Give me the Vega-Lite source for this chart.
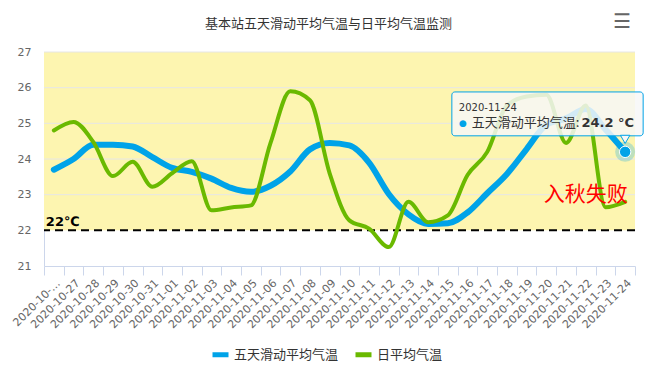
{
  "$schema": "https://vega.github.io/schema/vega-lite/v6.json",
  "width": 591,
  "height": 214,
  "autosize": {"type": "none"},
  "padding": {"left": 44, "top": 52, "right": 22, "bottom": 106},
  "background": "white",
  "config": {
    "view": {"stroke": null},
    "font": "Noto Sans CJK SC",
    "axisY": {"labelOverlap": false, "labelSeparation": 0, "tickCount": 7, "labelColor": "#666666", "labelFontSize": 11, "labelFont": "DejaVu Sans", "grid": false, "ticks": false, "domainColor": "#ccd6eb", "labelPadding": 13},
    "axisX": {"labelOverlap": false, "labelColor": "#666666", "labelFontSize": 11, "labelFont": "DejaVu Sans"}
  },
  "title": {
    "text": "基本站五天滑动平均气温与日平均气温监测",
    "font": "Noto Sans CJK SC",
    "fontSize": 13,
    "fontWeight": "normal",
    "color": "#333333",
    "anchor": "middle",
    "frame": "group",
    "baseline": "alphabetic",
    "dx": -11,
    "offset": -29
  },
  "datasets": {
    "temps": [
      {"date": "2020-10-26", "series": "五天滑动平均气温", "value": 23.7},
      {"date": "2020-10-27", "series": "五天滑动平均气温", "value": 24.0},
      {"date": "2020-10-28", "series": "五天滑动平均气温", "value": 24.4},
      {"date": "2020-10-29", "series": "五天滑动平均气温", "value": 24.4},
      {"date": "2020-10-30", "series": "五天滑动平均气温", "value": 24.35},
      {"date": "2020-10-31", "series": "五天滑动平均气温", "value": 24.05},
      {"date": "2020-11-01", "series": "五天滑动平均气温", "value": 23.75},
      {"date": "2020-11-02", "series": "五天滑动平均气温", "value": 23.64},
      {"date": "2020-11-03", "series": "五天滑动平均气温", "value": 23.45},
      {"date": "2020-11-04", "series": "五天滑动平均气温", "value": 23.19},
      {"date": "2020-11-05", "series": "五天滑动平均气温", "value": 23.08},
      {"date": "2020-11-06", "series": "五天滑动平均气温", "value": 23.25},
      {"date": "2020-11-07", "series": "五天滑动平均气温", "value": 23.65},
      {"date": "2020-11-08", "series": "五天滑动平均气温", "value": 24.27},
      {"date": "2020-11-09", "series": "五天滑动平均气温", "value": 24.45},
      {"date": "2020-11-10", "series": "五天滑动平均气温", "value": 24.38},
      {"date": "2020-11-11", "series": "五天滑动平均气温", "value": 23.9},
      {"date": "2020-11-12", "series": "五天滑动平均气温", "value": 23.02},
      {"date": "2020-11-13", "series": "五天滑动平均气温", "value": 22.45},
      {"date": "2020-11-14", "series": "五天滑动平均气温", "value": 22.18},
      {"date": "2020-11-15", "series": "五天滑动平均气温", "value": 22.2},
      {"date": "2020-11-16", "series": "五天滑动平均气温", "value": 22.5},
      {"date": "2020-11-17", "series": "五天滑动平均气温", "value": 23.04},
      {"date": "2020-11-18", "series": "五天滑动平均气温", "value": 23.58},
      {"date": "2020-11-19", "series": "五天滑动平均气温", "value": 24.28},
      {"date": "2020-11-20", "series": "五天滑动平均气温", "value": 24.96},
      {"date": "2020-11-21", "series": "五天滑动平均气温", "value": 25.14},
      {"date": "2020-11-22", "series": "五天滑动平均气温", "value": 25.4},
      {"date": "2020-11-23", "series": "五天滑动平均气温", "value": 24.83},
      {"date": "2020-11-24", "series": "五天滑动平均气温", "value": 24.2},
      {"date": "2020-10-26", "series": "日平均气温", "value": 24.8},
      {"date": "2020-10-27", "series": "日平均气温", "value": 25.04},
      {"date": "2020-10-28", "series": "日平均气温", "value": 24.48},
      {"date": "2020-10-29", "series": "日平均气温", "value": 23.52},
      {"date": "2020-10-30", "series": "日平均气温", "value": 23.92},
      {"date": "2020-10-31", "series": "日平均气温", "value": 23.22},
      {"date": "2020-11-01", "series": "日平均气温", "value": 23.6},
      {"date": "2020-11-02", "series": "日平均气温", "value": 23.94},
      {"date": "2020-11-03", "series": "日平均气温", "value": 22.56},
      {"date": "2020-11-04", "series": "日平均气温", "value": 22.64},
      {"date": "2020-11-05", "series": "日平均气温", "value": 22.7},
      {"date": "2020-11-06", "series": "日平均气温", "value": 24.45},
      {"date": "2020-11-07", "series": "日平均气温", "value": 25.9},
      {"date": "2020-11-08", "series": "日平均气温", "value": 25.65},
      {"date": "2020-11-09", "series": "日平均气温", "value": 23.6},
      {"date": "2020-11-10", "series": "日平均气温", "value": 22.28},
      {"date": "2020-11-11", "series": "日平均气温", "value": 22.05},
      {"date": "2020-11-12", "series": "日平均气温", "value": 21.53},
      {"date": "2020-11-13", "series": "日平均气温", "value": 22.8},
      {"date": "2020-11-14", "series": "日平均气温", "value": 22.23},
      {"date": "2020-11-15", "series": "日平均气温", "value": 22.42},
      {"date": "2020-11-16", "series": "日平均气温", "value": 23.55},
      {"date": "2020-11-17", "series": "日平均气温", "value": 24.2},
      {"date": "2020-11-18", "series": "日平均气温", "value": 25.5},
      {"date": "2020-11-19", "series": "日平均气温", "value": 25.75},
      {"date": "2020-11-20", "series": "日平均气温", "value": 25.8},
      {"date": "2020-11-21", "series": "日平均气温", "value": 24.45},
      {"date": "2020-11-22", "series": "日平均气温", "value": 25.5},
      {"date": "2020-11-23", "series": "日平均气温", "value": 22.65},
      {"date": "2020-11-24", "series": "日平均气温", "value": 22.8}
    ],
    "grid": [{"v": 23}, {"v": 24}, {"v": 25}, {"v": 26}, {"v": 27}]
  },
  "data": {"name": "temps"},
  "layer": [
    {
      "data": {"values": [{}]},
      "mark": {"type": "rect", "color": "#fdf5b0"},
      "encoding": {"y": {"datum": 22}, "y2": {"datum": 27}}
    },
    {
      "data": {"name": "grid"},
      "mark": {"type": "rule", "color": "#e6e6e6", "strokeWidth": 1},
      "encoding": {"y": {"field": "v", "type": "quantitative"}}
    },
    {
      "data": {"values": [{}]},
      "mark": {"type": "rule", "color": "#000000", "strokeWidth": 2, "strokeDash": [8, 5]},
      "encoding": {"y": {"datum": 22}}
    },
    {
      "transform": [{"filter": "datum.series == '五天滑动平均气温'"}],
      "mark": {"type": "line", "interpolate": "monotone", "strokeWidth": 6, "strokeCap": "round"},
      "encoding": {
        "x": {
          "field": "date", "type": "ordinal",
          "scale": {"type": "band", "paddingInner": 0, "paddingOuter": 0},
          "axis": {
            "title": null, "labelAngle": -45, "tickBand": "extent", "tickSize": 9,
            "tickColor": "#ccd6eb", "domainColor": "#ccd6eb", "labelColor": "#666666",
            "labelFontSize": 11, "labelFont": "DejaVu Sans", "labelPadding": 2,
            "labelOverlap": false, "labelBound": false,
            "labelExpr": "datum.value == '2020-10-26' ? '2020-10-…' : datum.label"
          }
        },
        "y": {
          "field": "value", "type": "quantitative",
          "scale": {"domain": [21, 27], "nice": false, "zero": false},
          "axis": {
            "title": null, "tickCount": 7, "grid": false, "ticks": false,
            "labelOverlap": false, "labelSeparation": 0, "format": "d",
            "domainColor": "#ccd6eb", "labelColor": "#666666", "labelFontSize": 11,
            "labelFont": "DejaVu Sans", "labelPadding": 13
          }
        },
        "color": {
          "field": "series", "type": "nominal",
          "scale": {"domain": ["五天滑动平均气温", "日平均气温"], "range": ["#00a3e8", "#6ab900"]},
          "legend": {
            "orient": "none", "legendX": 166, "legendY": 292, "direction": "horizontal",
            "title": null, "symbolType": "stroke", "symbolStrokeWidth": 5, "symbolSize": 256,
            "labelFontSize": 13, "labelFont": "Noto Sans CJK SC", "labelColor": "#333333",
            "columnPadding": 6, "labelOffset": 3
          }
        }
      }
    },
    {
      "transform": [{"filter": "datum.series == '日平均气温'"}],
      "mark": {"type": "line", "interpolate": "monotone", "strokeWidth": 4, "strokeCap": "round"},
      "encoding": {
        "x": {"field": "date", "type": "ordinal"},
        "y": {"field": "value", "type": "quantitative"},
        "color": {"field": "series", "type": "nominal"}
      }
    },
    {
      "data": {"values": [{}]},
      "mark": {"type": "text", "text": "22℃", "fontWeight": "bold", "fontSize": 13, "align": "left", "baseline": "alphabetic", "dx": -8, "dy": -4, "color": "#000000", "font": "DejaVu Sans"},
      "encoding": {"x": {"datum": "2020-10-26", "type": "ordinal"}, "y": {"datum": 22}}
    },
    {
      "data": {"values": [{}]},
      "mark": {"type": "text", "text": "入秋失败", "fontSize": 21, "align": "center", "baseline": "middle", "color": "#ff0000", "font": "Noto Sans CJK SC", "fontWeight": "normal"},
      "encoding": {"x": {"datum": "2020-11-22", "type": "ordinal"}, "y": {"datum": 23}}
    },
    {
      "transform": [{"filter": "datum.series == '五天滑动平均气温' && datum.date == '2020-11-24'"}],
      "mark": {"type": "point", "filled": true, "size": 400, "opacity": 0.25, "color": "#00a3e8"},
      "encoding": {"x": {"field": "date", "type": "ordinal"}, "y": {"field": "value", "type": "quantitative"}}
    },
    {
      "transform": [{"filter": "datum.series == '五天滑动平均气温' && datum.date == '2020-11-24'"}],
      "mark": {"type": "point", "filled": true, "size": 130, "opacity": 1, "color": "#00a3e8", "stroke": "#ffffff", "strokeWidth": 1},
      "encoding": {"x": {"field": "date", "type": "ordinal"}, "y": {"field": "value", "type": "quantitative"}}
    },
    {
      "data": {"values": [{}]},
      "mark": {"type": "rect", "fill": "#f7f7f7", "fillOpacity": 0.85, "stroke": "#00a3e8", "strokeWidth": 1, "cornerRadius": 3, "xOffset": 4, "x2Offset": 18},
      "encoding": {"x": {"datum": "2020-11-15", "type": "ordinal"}, "x2": {"datum": "2020-11-24"}, "y": {"datum": 25.88}, "y2": {"datum": 24.65}}
    },
    {
      "data": {"values": [{}]},
      "mark": {"type": "point", "shape": "triangle-down", "filled": true, "fill": "#f7f7f7", "stroke": "#00a3e8", "strokeWidth": 1, "size": 90, "opacity": 1},
      "encoding": {"x": {"datum": "2020-11-24", "type": "ordinal"}, "y": {"datum": 24.55}}
    },
    {
      "data": {"values": [{}]},
      "mark": {"type": "text", "text": "2020-11-24", "fontSize": 10, "align": "left", "baseline": "middle", "dx": 11, "color": "#333333", "font": "DejaVu Sans"},
      "encoding": {"x": {"datum": "2020-11-15", "type": "ordinal"}, "y": {"datum": 25.43}}
    },
    {
      "data": {"values": [{}]},
      "mark": {"type": "text", "text": "●", "fontSize": 9, "align": "center", "baseline": "middle", "dx": 15, "color": "#00a3e8", "font": "DejaVu Sans"},
      "encoding": {"x": {"datum": "2020-11-15", "type": "ordinal"}, "y": {"datum": 25.01}}
    },
    {
      "data": {"values": [{}]},
      "mark": {"type": "text", "text": "五天滑动平均气温:", "fontSize": 13, "align": "left", "baseline": "middle", "dx": 24, "color": "#333333", "font": "Noto Sans CJK SC"},
      "encoding": {"x": {"datum": "2020-11-15", "type": "ordinal"}, "y": {"datum": 25.01}}
    },
    {
      "data": {"values": [{}]},
      "mark": {"type": "text", "text": "24.2 °C", "fontSize": 13, "fontWeight": "bold", "align": "right", "baseline": "middle", "dx": 9, "color": "#333333", "font": "DejaVu Sans"},
      "encoding": {"x": {"datum": "2020-11-24", "type": "ordinal"}, "y": {"datum": 25.01}}
    },
    {
      "data": {"values": [{}]},
      "mark": {"type": "text", "text": "☰", "fontSize": 20, "fontWeight": "bold", "align": "center", "baseline": "middle", "dx": -3, "dy": -30, "color": "#666666", "font": "DejaVu Sans"},
      "encoding": {"x": {"datum": "2020-11-24", "type": "ordinal"}, "y": {"datum": 27}}
    }
  ]
}
